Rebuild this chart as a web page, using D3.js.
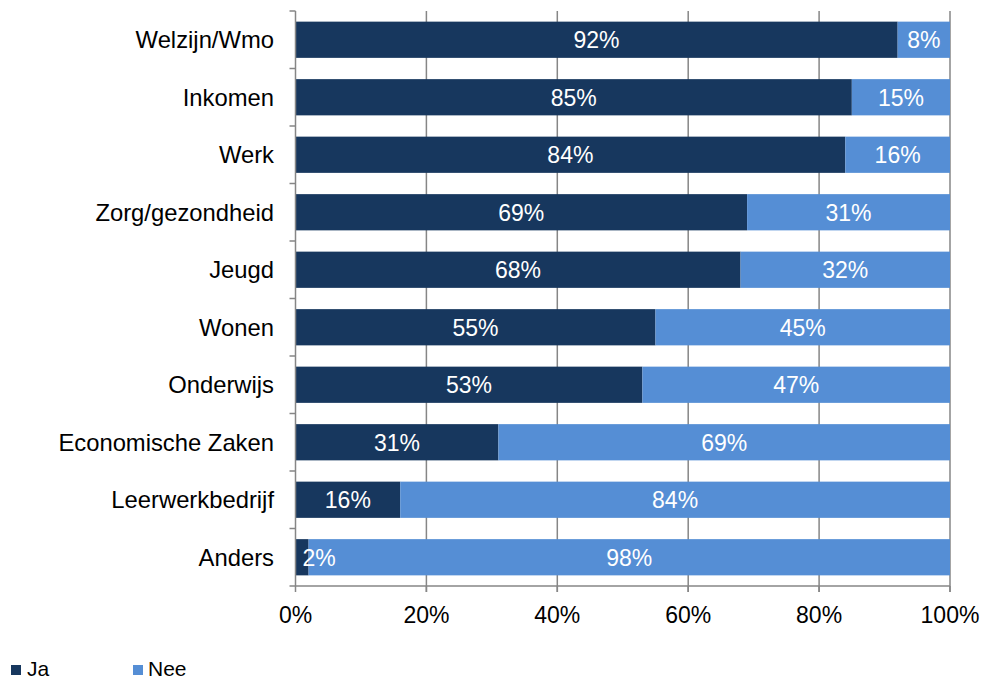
<!DOCTYPE html>
<html><head><meta charset="utf-8">
<script src="https://cdn.jsdelivr.net/npm/d3@7"></script>
<style>body{margin:0;background:#fff}svg{display:block}text{font-family:"Liberation Sans",Arial,sans-serif}</style>
</head><body>
<script>
const categories = ["Welzijn/Wmo","Inkomen","Werk","Zorg/gezondheid","Jeugd","Wonen","Onderwijs","Economische Zaken","Leerwerkbedrijf","Anders"];
const ja  = [92,85,84,69,68,55,53,31,16,2];
const nee = [8,15,16,31,32,45,47,69,84,98];
const xTicks = [0,20,40,60,80,100];
const seriesNames = ["Ja","Nee"];
const colors = ["#17375E","#558ED5"];

const W=985,H=680,FS=23;
const svg=d3.select("body").append("svg").attr("width",W).attr("height",H);
const x=d3.scaleLinear().domain([0,100]).range([295.5,950]);
const y=d3.scaleBand().domain(categories).range([11,586]).paddingInner(0.37).paddingOuter(0.185);

// gridlines
svg.append("g").selectAll("line").data(xTicks.slice(1)).join("line")
  .attr("x1",d=>x(d)).attr("x2",d=>x(d)).attr("y1",11).attr("y2",592)
  .attr("stroke","#868686").attr("stroke-width",1.5);

const data=categories.map((c,i)=>({c,ja:ja[i],nee:nee[i]}));
const stack=d3.stack().keys(["ja","nee"])(data);
const g=svg.append("g");
stack.forEach((s,si)=>{
  g.selectAll(null).data(s).join("rect")
   .attr("x",d=>x(d[0])).attr("width",d=>x(d[1])-x(d[0]))
   .attr("y",d=>y(d.data.c)).attr("height",y.bandwidth())
   .attr("fill",colors[si]);
});
// labels (wide segments centred)
stack.forEach((s,si)=>{
  g.selectAll(null).data(s.filter(d=>d[1]-d[0]>=5)).join("text")
   .attr("x",d=>(x(d[0])+x(d[1]))/2)
   .attr("y",d=>y(d.data.c)+y.bandwidth()/2)
   .attr("dy","0.36em").attr("text-anchor","middle")
   .attr("fill","#fff").attr("font-size",FS)
   .text(d=>(d[1]-d[0])+"%");
});
// narrow segment label
data.filter(d=>d.ja<5).forEach(d=>{
  g.append("text").attr("x",x(d.ja)-6).attr("y",y(d.c)+y.bandwidth()/2).attr("dy","0.36em")
   .attr("fill","#fff").attr("font-size",FS).text(d.ja+"%");
});

// y axis
const ya=svg.append("g").attr("transform","translate(295.5,0)");
ya.append("line").attr("y1",11).attr("y2",586).attr("stroke","#868686").attr("stroke-width",1.5);
const bnd=d3.range(categories.length+1).map(i=>11+i*(575/categories.length));
ya.selectAll(".tk").data(bnd).join("line").attr("x1",-6).attr("x2",0).attr("y1",d=>d).attr("y2",d=>d).attr("stroke","#868686").attr("stroke-width",1.5);
ya.selectAll("text").data(categories).join("text")
  .attr("x",-21.5).attr("y",d=>y(d)+y.bandwidth()/2).attr("dy","0.36em").attr("text-anchor","end")
  .attr("font-size",23.8).attr("fill","#000").text(d=>d);

// x axis
const xa=svg.append("g").attr("transform","translate(0,586)");
xa.append("line").attr("x1",295.5).attr("x2",950).attr("stroke","#868686").attr("stroke-width",1.5);
xa.selectAll(".tk").data(xTicks).join("line").attr("x1",d=>x(d)).attr("x2",d=>x(d)).attr("y1",0).attr("y2",6).attr("stroke","#868686").attr("stroke-width",1.5);
xa.selectAll("text").data(xTicks).join("text").attr("x",d=>x(d)).attr("y",29).attr("dy","0.36em")
  .attr("text-anchor","middle").attr("font-size",FS).attr("fill","#000").text(d=>d+"%");

// legend
const lg=svg.append("g");
[[11,27],[133,148]].forEach((p,i)=>{
  lg.append("rect").attr("x",p[0]).attr("y",665).attr("width",10).attr("height",10).attr("fill",colors[i]);
  lg.append("text").attr("x",p[1]).attr("y",676).attr("font-size",21).attr("fill","#000").text(seriesNames[i]);
});
</script>
</body></html>
